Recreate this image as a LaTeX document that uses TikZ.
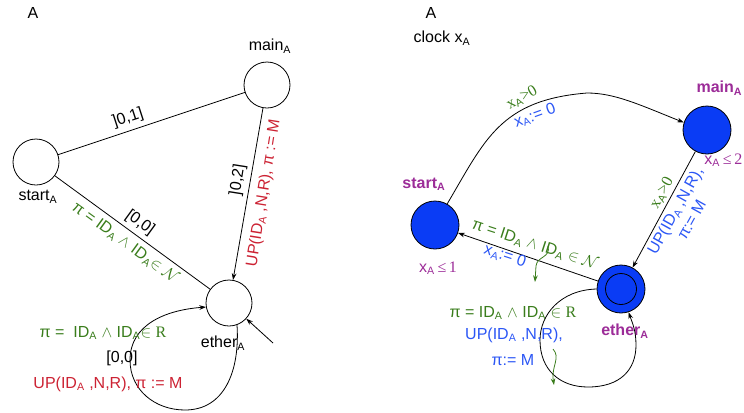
\documentclass[tikz,border=0pt]{standalone}
\usepackage{fontspec}
\setmainfont{Liberation Sans}
\newfontfamily\serif{Liberation Serif}
\usetikzlibrary{arrows.meta}
\definecolor{AutGreen}{HTML}{3A7D1C}
\definecolor{AutRed}{HTML}{CC2233}
\definecolor{AutBlue}{HTML}{0A3CF5}
\definecolor{AutBlueText}{HTML}{2B56F5}
\definecolor{AutPurple}{HTML}{9C2C98}
\newcommand{\subA}{\textsubscript{A}}

\begin{document}
\fontsize{12}{14}\selectfont
\begin{tikzpicture}[x=0.75pt,y=-0.75pt,line width=0.6pt]
    \tikzset{loc/.style={circle,draw,minimum size=34.5pt,inner sep=0pt},
      floc/.style={loc,fill=AutBlue,minimum size=36pt},
      arr/.style={-{Stealth[length=5pt,width=3.5pt]}},
      grn/.style={text=AutGreen},
      blu/.style={text=AutBlueText},
      pur/.style={text=AutPurple}}
    \useasboundingbox (0,0) rectangle (744,412);
    % untimed automaton
    \node at (33,13) {A};
    \node[loc] (start) at (36,162) {};
    \node[loc] (main) at (267,85) {};
    \node[loc] (ether) at (229,303) {};
    \node at (38,197) {start\subA};
    \node at (270,46) {main\subA};
    \node at (223,343) {ether\subA};
    \coordinate (init) at (273,343);
    \draw (start) -- (main);
    \draw (start) -- (ether);
    \draw[arr] (main) -- (ether);
    \draw[arr] (init) -- (ether);
    \draw[arr] (ether.-70) .. controls (240,370) and (225,410) .. (185,410)
      .. controls (155,410) and (130,390) .. (130,360)
      .. controls (130,325) and (165,310) .. (ether.190);
    \node[rotate=18] at (128,118) {]0,1]};
    \node[rotate=-36] at (140,223) {[0,0]};
    \node[rotate=-36,grn] at (125,243) {π = ID\subA{} $\wedge$ ID\subA$\in\mathcal{N}$};
    \node[rotate=81] at (238,180) {]0,2]};
    \node[rotate=81,text=AutRed] at (264,193) {UP(ID\subA{} ,N,R), π := M};
    \node[grn] at (103,333) {π =\ \ ID\subA{} $\wedge$ ID\subA$\in$ {\serif R}};
    \node at (122,358) {[0,0]};
    \node[text=AutRed] at (108,384) {UP(ID\subA{} ,N,R), π := M};
    % timed automaton
    \node at (431,13) {A};
    \node at (442,38) {clock x\subA};
    \node[floc] (startc) at (435,225) {};
    \node[floc] (mainc) at (707,130) {};
    \node[floc] (etherc) at (621,289) {};
    \draw (etherc) circle[radius=15.5];
    \node[pur,font=\bfseries] at (424,184) {start\subA};
    \node[pur,font=\bfseries,anchor=east,inner sep=1pt] at (744,88) {main\subA};
    \node[pur,font=\bfseries] at (625,331) {ether\subA};
    \node[pur,anchor=east,inner sep=1pt] at (744,160) {x\subA{\serif\,≤\,2}};
    \node[pur] at (438,268) {x\subA{\serif\,≤\,1}};
    \draw[arr] (startc.60) .. controls (485,140) and (500,100) .. (587,93)
      .. controls (615,93) and (640,105) .. (mainc.162);
    \draw[arr] (mainc) -- (etherc);
    \draw[arr] (etherc) -- (startc);
    \draw[arr] (etherc.180) .. controls (560,290) and (540,315) .. (540,340)
      .. controls (540,370) and (560,387) .. (588,387)
      .. controls (620,387) and (636,370) .. (636,345)
      .. controls (636,330) and (632,322) .. (etherc.-72);
    \node[rotate=30,grn] at (522,98) {{\serif x}\subA{\serif >0}};
    \node[rotate=20,blu] at (535,116) {x\subA:= 0};
    \node[rotate=61,grn] at (662,193) {{\serif x}\subA{\serif >0}};
    \node[rotate=61,blu,align=center] at (683,215) {UP(ID\subA{} ,N,R),\\π:= M};
    \node[rotate=-18,grn] at (535,245) {π = ID\subA{} $\wedge$ ID\subA{} $\in\mathcal{N}$};
    \node[rotate=-18,blu] at (505,256) {x\subA:= 0};
    \draw[AutGreen,arr] (548,246) .. controls (551,258) and (537,256) .. (536,266) -- (535,282);
    \node[grn] at (513,313) {π = ID\subA{} $\wedge$ ID\subA{} $\in$ {\serif R}};
    \node[blu] at (514,335) {UP(ID\subA{} ,N,R),};
    \node[blu] at (513,360) {π:= M};
    \draw[AutGreen,arr] (553,349) .. controls (561,358) and (551,366) .. (554,385);
  \end{tikzpicture}
\end{document}
